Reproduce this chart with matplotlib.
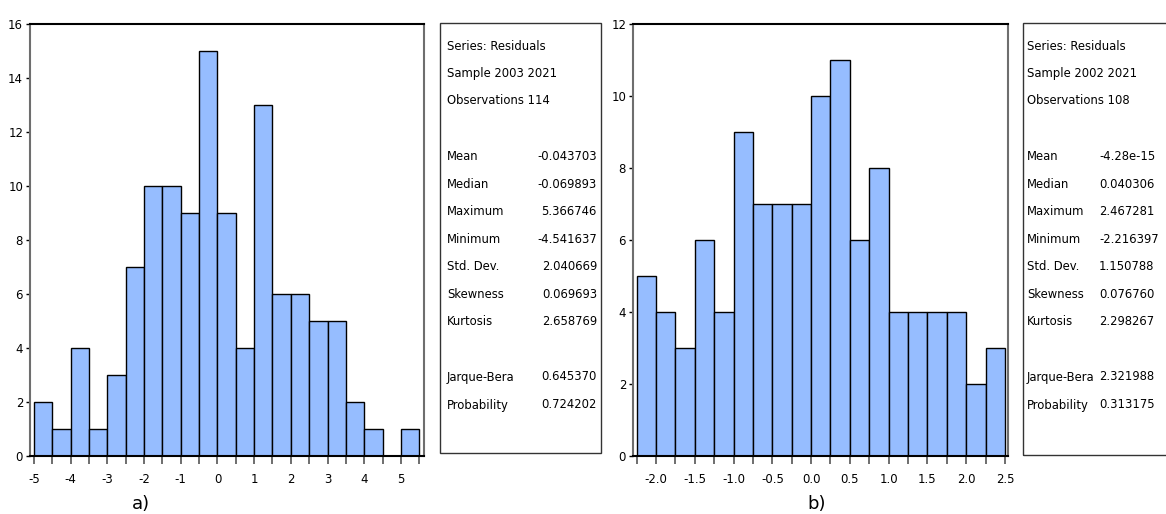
import matplotlib.pyplot as plt
import matplotlib.patches as patches
from matplotlib import font_manager
import numpy as np

# histogram a) : bin edges start -5, width 0.5
bins_a_start = -5.0
bins_a_width = 0.5
counts_a = [2, 1, 4, 1, 3, 7, 10, 10, 9, 15, 9, 4, 13, 6, 6, 5, 5, 2, 1, 0, 1]

# histogram b) : bin edges start -2.25, width 0.25
bins_b_start = -2.25
bins_b_width = 0.25
counts_b = [5, 4, 3, 6, 4, 9, 7, 7, 7, 10, 11, 6, 8, 4, 4, 4, 4, 2, 3]

header_a = ["Series: Residuals", "Sample 2003 2021", "Observations 114"]
header_b = ["Series: Residuals", "Sample 2002 2021", "Observations 108"]
stat_names = ["Mean", "Median", "Maximum", "Minimum", "Std. Dev.", "Skewness", "Kurtosis"]
stat_vals_a = ["-0.043703", "-0.069893", "5.366746", "-4.541637", "2.040669", "0.069693", "2.658769"]
stat_vals_b = ["-4.28e-15", "0.040306", "2.467281", "-2.216397", "1.150788", "0.076760", "2.298267"]
test_names = ["Jarque-Bera", "Probability"]
test_vals_a = ["0.645370", "0.724202"]
test_vals_b = ["2.321988", "0.313175"]

W, H = 1166, 514
fig = plt.figure(figsize=(W / 100, H / 100), dpi=100)
bar_color = '#96bdff'

# pick a narrow font if one is installed, else Liberation Sans a bit smaller
font_kw = dict(family='Liberation Sans')
box_size, tick_size = 9.4, 9.2
try:
    font_manager.findfont(font_manager.FontProperties(family='Liberation Sans Narrow'),
                          fallback_to_default=False)
    font_kw = dict(family='Liberation Sans Narrow')
    box_size, tick_size = 11.5, 10.5
except Exception:
    f = font_manager.findfont(font_manager.FontProperties(family='DejaVu Sans', stretch='condensed'))
    if 'Condensed' in f:
        font_kw = dict(family='DejaVu Sans', stretch='condensed')
        box_size, tick_size = 9.3, 9.4


def fx(x):
    return x / W


def fy(y):
    return 1 - y / H


def draw_hist(rect, start, width, counts, xlim, ymax, major, minor, fmt):
    ax = fig.add_axes(rect)
    edges = start + width * np.arange(len(counts))
    ax.bar(edges, counts, width=width, align='edge', color=bar_color,
           edgecolor='black', linewidth=1.0)
    ax.set_xlim(*xlim)
    ax.set_ylim(0, ymax)
    ax.set_yticks(np.arange(0, ymax + 1, 2))
    ax.set_xticks(major)
    ax.set_xticks(minor, minor=True)
    ax.set_xticklabels([fmt(v) for v in major])
    for lab in ax.get_xticklabels() + ax.get_yticklabels():
        lab.set(**font_kw)
        lab.set_fontsize(tick_size)
    ax.tick_params(axis='y', length=3, width=1, pad=2)
    ax.tick_params(axis='x', which='both', length=6, width=1.2, pad=6, color='#555555')
    ax.spines['left'].set_color('#6e6e6e')
    ax.spines['right'].set_color('#6e6e6e')
    ax.spines['top'].set_color('black')
    ax.spines['bottom'].set_color('black')
    for s in ax.spines.values():
        s.set_linewidth(1.5)
    return ax


ax1 = draw_hist([fx(30), fy(456), fx(424) - fx(30), fy(24) - fy(456)],
                bins_a_start, bins_a_width, counts_a, (-5.11, 5.63), 16,
                np.arange(-5, 6, 1), np.arange(-4.5, 5.6, 1),
                lambda v: "%d" % v)
ax2 = draw_hist([fx(633), fy(456), fx(1008) - fx(633), fy(24) - fy(456)],
                bins_b_start, bins_b_width, counts_b, (-2.298, 2.54), 12,
                np.arange(-2.0, 2.51, 0.5), np.arange(-2.25, 2.6, 0.5),
                lambda v: "%.1f" % v)

fig.text(fx(141), fy(504), "a)", fontsize=13, ha='center', va='center')
fig.text(fx(817), fy(504), "b)", fontsize=13, ha='center', va='center')


def stats_box(x0, x1, y0, y1, tx, vx, vha, header, vals, tvals):
    fig.add_artist(patches.Rectangle((fx(x0), fy(y1)), fx(x1) - fx(x0), fy(y0) - fy(y1),
                                     transform=fig.transFigure, fill=False,
                                     edgecolor='#333333', linewidth=1.0))
    ys = [46, 74, 101]
    for y, t in zip(ys, header):
        fig.text(fx(tx), fy(y), t, fontsize=box_size, va='center', **font_kw)
    for i, (n, v) in enumerate(zip(stat_names, vals)):
        y = 157 + i * 27.4
        fig.text(fx(tx), fy(y), n, fontsize=box_size, va='center', **font_kw)
        fig.text(fx(vx), fy(y), v, fontsize=box_size, va='center', ha=vha, **font_kw)
    for i, (n, v) in enumerate(zip(test_names, tvals)):
        y = 377 + i * 28
        fig.text(fx(tx), fy(y), n, fontsize=box_size, va='center', **font_kw)
        fig.text(fx(vx), fy(y), v, fontsize=box_size, va='center', ha=vha, **font_kw)


stats_box(440, 601, 23, 453, 447, 597, 'right', header_a, stat_vals_a, test_vals_a)
stats_box(1023, 1200, 23, 455, 1027, 1099, 'left', header_b, stat_vals_b, test_vals_b)

fig.savefig("out.png", dpi=100)
